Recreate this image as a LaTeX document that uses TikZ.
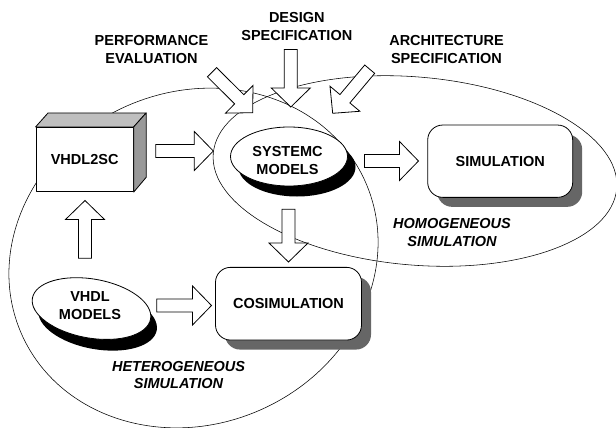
\documentclass[tikz,border=0pt]{standalone}
\usepackage{fontspec}
\setmainfont{Liberation Sans}
\usetikzlibrary{calc,shadows}

% hollow block arrow from coordinate #1 (tail) to coordinate #2 (tip)
\newcommand\blockarrow[2]{%
  \coordinate (#1-#2-h) at ($(#2)!19pt!(#1)$);
  \draw[blockarr] ($(#1)!6.5pt!90:(#2)$)
    -- ($(#1-#2-h)!6.5pt!90:(#2)$)
    -- ($(#1-#2-h)!19.5pt!90:(#2)$)
    -- (#2)
    -- ($(#1-#2-h)!19.5pt!-90:(#2)$)
    -- ($(#1-#2-h)!6.5pt!-90:(#2)$)
    -- ($(#1)!6.5pt!-90:(#2)$) -- cycle;}

\begin{document}
\begin{tikzpicture}[x=1pt,y=-1pt,
  lbl/.style={font=\fontsize{14.5}{18}\selectfont\bfseries, align=center, inner sep=0pt},
  ilbl/.style={font=\fontsize{14.5}{17.5}\selectfont\bfseries\itshape, align=center, inner sep=0pt},
  region/.style={draw=black, line width=0.55pt},
  blockarr/.style={draw=black, fill=white, line width=0.8pt, line join=miter},
  simbox/.style={draw=black, fill=white, rounded corners=15pt, line width=0.8pt,
    inner sep=0pt, font=\fontsize{14.5}{18}\selectfont\bfseries,
    drop shadow={shadow xshift=9.5pt, shadow yshift=-9.5pt, fill=black!60, opacity=1}},
  cubeface/.style={draw=black, line width=0.8pt, line join=round}]

\useasboundingbox (0,0) rectangle (616,428);

% simulation domains
\draw[region, rotate around={24:(193.5,258)}] (193.5,258) ellipse [x radius=188, y radius=166];
\draw[region, rotate around={-5:(415,171)}] (415,171) ellipse [x radius=202.5, y radius=94];

% VHDL2SC translator drawn as a cube
\node[cubeface, fill=white, minimum width=97.3pt, minimum height=64.4pt, inner sep=0pt,
      font=\fontsize{14.5}{18}\selectfont\bfseries] (vsc) at (84.65,159.5) {VHDL2SC};
\draw[cubeface, fill=black!25] (vsc.north west) -- ++(12.5,-14)
  -- ($(vsc.north east)+(12.5,-14)$) -- (vsc.north east) -- cycle;
\draw[cubeface, fill=black!40] (vsc.north east) -- ++(12.5,-14) -- ++(0,64.4)
  -- (vsc.south east) -- cycle;

% model sets as shadowed ellipses
\coordinate (scm) at (289,156.5);
\fill[black] ($(scm)+(8,10.5)$) ellipse [x radius=58.5, y radius=29.5];
\draw[fill=white, line width=0.8pt] (scm) ellipse [x radius=58.5, y radius=29.5];
\node[lbl] (scmt) at (287.5,161) {SYSTEMC\\MODELS};

\coordinate (vm) at (91.5,308.5);
\fill[black, rotate around={-10:($(vm)+(8,10)$)}] ($(vm)+(8,10)$) ellipse [x radius=60, y radius=29.5];
\draw[fill=white, line width=0.8pt, rotate around={-10:(vm)}] (vm) ellipse [x radius=60, y radius=29.5];
\node[lbl] (vmt) at (90,305.3) {VHDL\\MODELS};

% simulators
\node[simbox, minimum width=145pt, minimum height=72.3pt] (sim) at (500.2,161.2) {SIMULATION};
\node[simbox, minimum width=146pt, minimum height=72.7pt] (cosim) at (288.5,303.7) {COSIMULATION};

% inputs
\node[lbl] (design) at (296.8,26.7) {DESIGN\\SPECIFICATION};
\node[lbl] (perf) at (151.5,49.8) {PERFORMANCE\\EVALUATION};
\node[lbl] (arch) at (446.5,50) {ARCHITECTURE\\SPECIFICATION};

% domain labels
\node[ilbl] (homog) at (452,232.5) {HOMOGENEOUS\\SIMULATION};
\node[ilbl] (heterog) at (178.5,375) {HETEROGENEOUS\\SIMULATION};

% arrow end points
\coordinate (t1) at (155.7,151);   \coordinate (h1) at (213.3,151);
\coordinate (t2) at (364.5,161);   \coordinate (h2) at (418.5,161);
\coordinate (t3) at (288.5,209.3); \coordinate (h3) at (288.5,262);
\coordinate (t4) at (156.7,305.5); \coordinate (h4) at (211.5,305.5);
\coordinate (t5) at (85,258.3);    \coordinate (h5) at (85,200.5);
\coordinate (t6) at (290.8,49.5);  \coordinate (h6) at (290.8,107);
\coordinate (t7) at (212,72.2);    \coordinate (h7) at (252.7,112.7);
\coordinate (t8) at (369.7,69.2);  \coordinate (h8) at (332.7,113.3);

\blockarrow{t1}{h1}
\blockarrow{t2}{h2}
\blockarrow{t3}{h3}
\blockarrow{t4}{h4}
\blockarrow{t5}{h5}
\blockarrow{t6}{h6}
\blockarrow{t7}{h7}
\blockarrow{t8}{h8}
\end{tikzpicture}
\end{document}
